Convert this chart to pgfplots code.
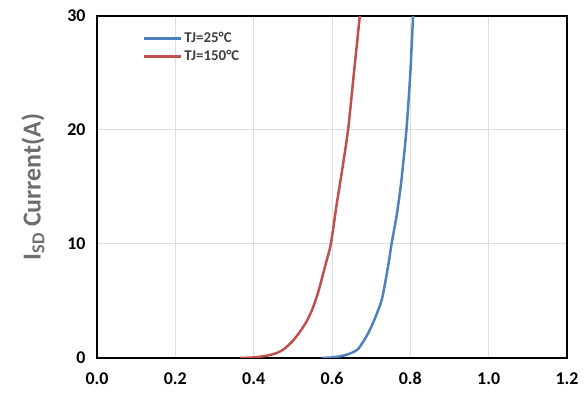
\documentclass[border=0pt]{standalone}
\usepackage{pgfplots}
\pgfplotsset{compat=1.18}
\usepackage{fontspec}
\setmainfont{Carlito}
\usetikzlibrary{calc}
\definecolor{cblue}{RGB}{79,129,189}
\definecolor{cred}{RGB}{192,80,77}
\definecolor{labgray}{RGB}{110,110,110}
\begin{document}
\begin{tikzpicture}[x=1bp,y=1bp]
\begin{axis}[
  scale only axis,
  width=470bp, height=342bp,
  xmin=0, xmax=1.2, ymin=0, ymax=30,
  xtick={0,0.2,0.4,0.6,0.8,1.0,1.2},
  ytick={0,10,20,30},
  xticklabels={0.0,0.2,0.4,0.6,0.8,1.0,1.2},
  yticklabels={0,10,20,30},
  /pgf/number format/assume math mode=true,
  major tick length=0pt,
  grid=major,
  major grid style={draw=black!13, line width=1bp},
  axis line style={black, line width=1.2bp},
  tick label style={font=\fontsize{18}{20}\selectfont\bfseries, black},
  xticklabel style={yshift=-11bp},
  yticklabel style={xshift=-8bp},
  ylabel={I\textsubscript{SD} Current(A)},
  ylabel style={font=\fontsize{26}{29}\selectfont\bfseries, color=labgray, yshift=16bp},
  legend style={at={(rel axis cs:0.097,0.958)}, anchor=north west, draw=none, fill=none,
    font=\fontsize{15}{17}\selectfont\bfseries, text=black!75, row sep=2bp,
    inner sep=0pt},
  legend cell align=left,
  legend image code/.code={\draw[#1, line width=2.5bp] (0bp,0bp) -- (37bp,0bp);},
  clip=true,
]
\addplot[cblue, line width=2.5bp, smooth, tension=0.4] coordinates {
(0.573,0) (0.60,0.05) (0.628,0.2) (0.65,0.45) (0.667,0.8) (0.688,1.9) (0.705,3.1)
(0.727,5.1) (0.743,8) (0.752,10) (0.765,12.5) (0.777,15.5) (0.790,20) (0.800,25) (0.807,30)
};
\addlegendentry{TJ=25°C}
\addplot[cred, line width=2.5bp, smooth, tension=0.4] coordinates {
(0.365,0) (0.40,0.05) (0.433,0.2) (0.46,0.45) (0.478,0.8) (0.50,1.5) (0.518,2.3)
(0.535,3.2) (0.55,4.3) (0.565,5.8) (0.582,8.0) (0.597,10) (0.612,13.5) (0.626,16.5)
(0.641,20) (0.656,25) (0.671,30)
};
\addlegendentry{TJ=150°C}
\coordinate (bl) at (rel axis cs:0,0);
\coordinate (tr) at (rel axis cs:1,1);
\end{axis}
\pgfresetboundingbox
\path[use as bounding box] ($(bl)+(-97bp,-41bp)$) rectangle ($(tr)+(17bp,16bp)$);
\end{tikzpicture}
\end{document}
